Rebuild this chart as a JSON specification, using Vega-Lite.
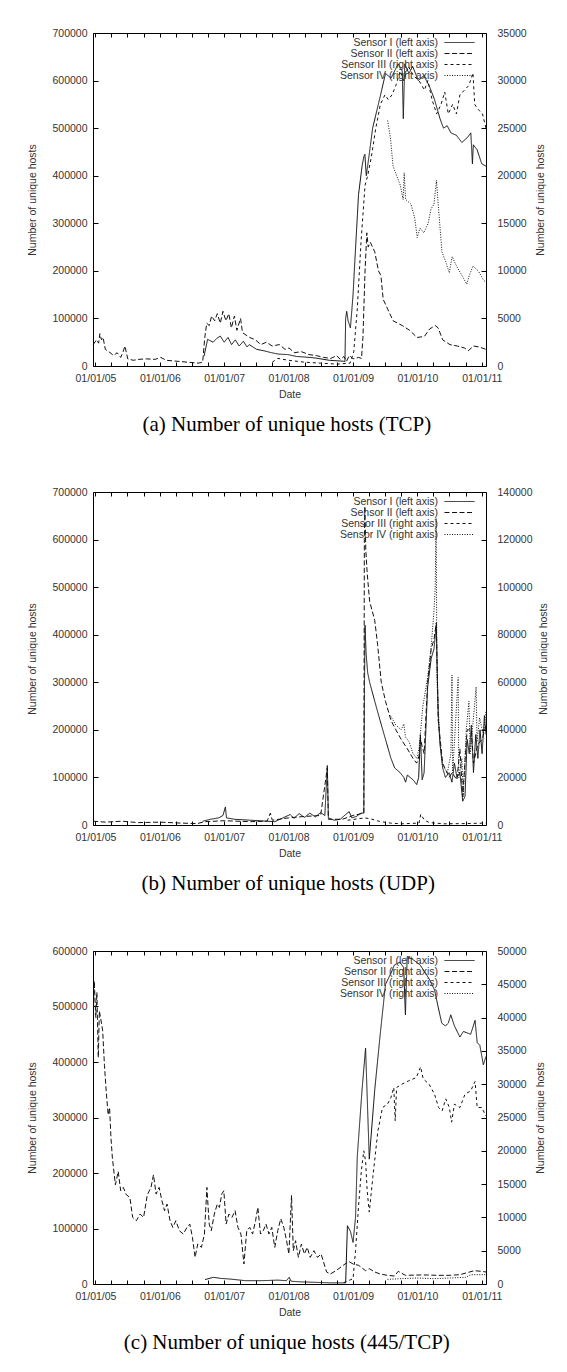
{
  "$schema": "https://vega.github.io/schema/vega-lite/v6.json",
  "background": "white",
  "padding": {"left": 27, "top": 27, "right": 5, "bottom": 5},
  "spacing": 50,
  "config": {
    "font": "Liberation Sans",
    "view": {"stroke": "#000", "strokeWidth": 1},
    "axis": {"labelFont": "Liberation Sans", "labelFontSize": 10.5, "labelColor": "#333", "titleFont": "Liberation Sans", "titleFontSize": 10.5, "titleFontWeight": "normal", "titleColor": "#333", "domain": false, "grid": false, "tickColor": "#000", "tickWidth": 1},
    "legend": {"orient": "none", "legendX": 361, "legendY": 4, "title": null, "padding": 0, "rowPadding": 0, "labelFont": "Liberation Sans", "labelFontSize": 10.5, "labelColor": "#333", "symbolType": "M-3,0H3", "symbolSize": 100, "symbolStrokeWidth": 1, "symbolStrokeColor": "#111", "labelAlign": "right", "labelOffset": -27, "labelLimit": 300},
    "title": {"font": "Liberation Serif", "fontSize": 21, "fontWeight": "normal", "color": "#000", "orient": "bottom", "anchor": "middle", "frame": "bounds", "offset": 14, "baseline": "top"},
    "line": {"stroke": "#111", "strokeWidth": 1, "clip": true}
  },
  "resolve": {"scale": {"strokeDash": "independent"}, "legend": {"strokeDash": "independent"}},
  "datasets": {
    "aL": [
      {"s":"I","d":"2006-09-09","v":21000},{"s":"I","d":"2006-09-29","v":56000},{"s":"I","d":"2006-10-30","v":50000},{"s":"I","d":"2006-11-20","v":58000},{"s":"I","d":"2006-12-10","v":63000},{"s":"I","d":"2007-01-01","v":50000},{"s":"I","d":"2007-01-23","v":60000},{"s":"I","d":"2007-02-12","v":45000},{"s":"I","d":"2007-03-05","v":55000},{"s":"I","d":"2007-03-27","v":42000},{"s":"I","d":"2007-04-20","v":52000},{"s":"I","d":"2007-05-10","v":40000},{"s":"I","d":"2007-05-23","v":45000},{"s":"I","d":"2007-07-04","v":35000},{"s":"I","d":"2007-08-15","v":32000},{"s":"I","d":"2007-09-25","v":28000},{"s":"I","d":"2007-11-05","v":25000},{"s":"I","d":"2007-12-28","v":24000},{"s":"I","d":"2008-02-16","v":20000},{"s":"I","d":"2008-03-28","v":19000},{"s":"I","d":"2008-05-29","v":17000},{"s":"I","d":"2008-08-19","v":12000},{"s":"I","d":"2008-11-09","v":10000},{"s":"I","d":"2008-11-16","v":9000},{"s":"I","d":"2008-11-20","v":100000},{"s":"I","d":"2008-11-26","v":115000},{"s":"I","d":"2008-12-04","v":95000},{"s":"I","d":"2008-12-17","v":80000},{"s":"I","d":"2009-01-01","v":150000},{"s":"I","d":"2009-01-11","v":220000},{"s":"I","d":"2009-02-01","v":360000},{"s":"I","d":"2009-02-21","v":420000},{"s":"I","d":"2009-03-03","v":440000},{"s":"I","d":"2009-03-09","v":445000},{"s":"I","d":"2009-03-17","v":400000},{"s":"I","d":"2009-04-01","v":440000},{"s":"I","d":"2009-04-22","v":500000},{"s":"I","d":"2009-06-03","v":565000},{"s":"I","d":"2009-07-04","v":615000},{"s":"I","d":"2009-08-04","v":605000},{"s":"I","d":"2009-09-14","v":635000},{"s":"I","d":"2009-10-07","v":620000},{"s":"I","d":"2009-10-13","v":520000},{"s":"I","d":"2009-10-21","v":635000},{"s":"I","d":"2009-11-14","v":615000},{"s":"I","d":"2009-12-05","v":630000},{"s":"I","d":"2010-01-06","v":600000},{"s":"I","d":"2010-02-06","v":610000},{"s":"I","d":"2010-03-08","v":590000},{"s":"I","d":"2010-04-08","v":560000},{"s":"I","d":"2010-05-09","v":520000},{"s":"I","d":"2010-05-29","v":500000},{"s":"I","d":"2010-06-19","v":505000},{"s":"I","d":"2010-07-10","v":490000},{"s":"I","d":"2010-08-10","v":485000},{"s":"I","d":"2010-09-10","v":470000},{"s":"I","d":"2010-10-11","v":480000},{"s":"I","d":"2010-10-31","v":490000},{"s":"I","d":"2010-11-09","v":425000},{"s":"I","d":"2010-11-14","v":465000},{"s":"I","d":"2010-12-05","v":455000},{"s":"I","d":"2011-01-01","v":425000},{"s":"I","d":"2011-01-25","v":420000},
      {"s":"II","d":"2004-12-19","v":45000},{"s":"II","d":"2005-01-07","v":55000},{"s":"II","d":"2005-01-19","v":48000},{"s":"II","d":"2005-01-26","v":68000},{"s":"II","d":"2005-02-04","v":55000},{"s":"II","d":"2005-02-13","v":60000},{"s":"II","d":"2005-02-26","v":35000},{"s":"II","d":"2005-03-25","v":28000},{"s":"II","d":"2005-04-14","v":22000},{"s":"II","d":"2005-05-04","v":28000},{"s":"II","d":"2005-05-24","v":18000},{"s":"II","d":"2005-06-07","v":30000},{"s":"II","d":"2005-06-17","v":42000},{"s":"II","d":"2005-07-03","v":15000},{"s":"II","d":"2005-08-04","v":12000},{"s":"II","d":"2005-09-05","v":14000},{"s":"II","d":"2005-10-17","v":15000},{"s":"II","d":"2005-12-06","v":14000},{"s":"II","d":"2006-01-06","v":18000},{"s":"II","d":"2006-02-07","v":12000},{"s":"II","d":"2006-04-08","v":10000},{"s":"II","d":"2006-06-08","v":8000},{"s":"II","d":"2006-08-07","v":6000},{"s":"II","d":"2006-09-01","v":8000},{"s":"II","d":"2006-09-13","v":60000},{"s":"II","d":"2006-09-24","v":90000},{"s":"II","d":"2006-10-08","v":85000},{"s":"II","d":"2006-10-22","v":105000},{"s":"II","d":"2006-11-08","v":95000},{"s":"II","d":"2006-11-23","v":110000},{"s":"II","d":"2006-12-10","v":90000},{"s":"II","d":"2006-12-25","v":115000},{"s":"II","d":"2007-01-11","v":95000},{"s":"II","d":"2007-01-27","v":110000},{"s":"II","d":"2007-02-11","v":80000},{"s":"II","d":"2007-02-28","v":105000},{"s":"II","d":"2007-03-14","v":75000},{"s":"II","d":"2007-04-04","v":100000},{"s":"II","d":"2007-04-15","v":70000},{"s":"II","d":"2007-05-05","v":65000},{"s":"II","d":"2007-05-26","v":60000},{"s":"II","d":"2007-06-27","v":55000},{"s":"II","d":"2007-07-28","v":45000},{"s":"II","d":"2007-08-29","v":50000},{"s":"II","d":"2007-09-30","v":42000},{"s":"II","d":"2007-11-10","v":45000},{"s":"II","d":"2007-12-12","v":35000},{"s":"II","d":"2008-01-04","v":38000},{"s":"II","d":"2008-02-02","v":28000},{"s":"II","d":"2008-03-15","v":30000},{"s":"II","d":"2008-04-26","v":24000},{"s":"II","d":"2008-06-06","v":22000},{"s":"II","d":"2008-07-18","v":18000},{"s":"II","d":"2008-08-29","v":16000},{"s":"II","d":"2008-09-30","v":22000},{"s":"II","d":"2008-10-20","v":14000},{"s":"II","d":"2008-11-10","v":20000},{"s":"II","d":"2008-11-25","v":10000},{"s":"II","d":"2008-12-11","v":22000},{"s":"II","d":"2009-01-01","v":15000},{"s":"II","d":"2009-02-01","v":18000},{"s":"II","d":"2009-02-18","v":16000},{"s":"II","d":"2009-02-26","v":60000},{"s":"II","d":"2009-03-10","v":200000},{"s":"II","d":"2009-03-20","v":280000},{"s":"II","d":"2009-03-28","v":250000},{"s":"II","d":"2009-04-09","v":260000},{"s":"II","d":"2009-05-04","v":240000},{"s":"II","d":"2009-05-25","v":200000},{"s":"II","d":"2009-06-08","v":190000},{"s":"II","d":"2009-06-21","v":140000},{"s":"II","d":"2009-07-16","v":120000},{"s":"II","d":"2009-08-16","v":95000},{"s":"II","d":"2009-10-07","v":85000},{"s":"II","d":"2009-11-18","v":75000},{"s":"II","d":"2009-12-30","v":60000},{"s":"II","d":"2010-02-09","v":62000},{"s":"II","d":"2010-03-12","v":78000},{"s":"II","d":"2010-04-12","v":85000},{"s":"II","d":"2010-04-29","v":80000},{"s":"II","d":"2010-05-24","v":55000},{"s":"II","d":"2010-07-04","v":45000},{"s":"II","d":"2010-08-15","v":42000},{"s":"II","d":"2010-09-25","v":38000},{"s":"II","d":"2010-10-16","v":32000},{"s":"II","d":"2010-11-16","v":42000},{"s":"II","d":"2010-12-17","v":40000},{"s":"II","d":"2011-01-25","v":35000}
    ],
    "aR": [
      {"s":"III","d":"2007-10-01","v":400},{"s":"III","d":"2007-11-01","v":800},{"s":"III","d":"2008-01-01","v":600},{"s":"III","d":"2008-04-01","v":400},{"s":"III","d":"2008-07-01","v":300},{"s":"III","d":"2008-10-01","v":200},{"s":"III","d":"2008-12-15","v":300},{"s":"III","d":"2009-01-05","v":1500},{"s":"III","d":"2009-01-25","v":6000},{"s":"III","d":"2009-02-15","v":13000},{"s":"III","d":"2009-03-10","v":19000},{"s":"III","d":"2009-03-25","v":20000},{"s":"III","d":"2009-04-15","v":22000},{"s":"III","d":"2009-05-10","v":25000},{"s":"III","d":"2009-06-05","v":27500},{"s":"III","d":"2009-07-01","v":28500},{"s":"III","d":"2009-07-20","v":28000},{"s":"III","d":"2009-08-10","v":28500},{"s":"III","d":"2009-09-01","v":29500},{"s":"III","d":"2009-09-25","v":31000},{"s":"III","d":"2009-10-15","v":30000},{"s":"III","d":"2009-11-10","v":31500},{"s":"III","d":"2009-12-10","v":30500},{"s":"III","d":"2010-01-10","v":30000},{"s":"III","d":"2010-02-10","v":29000},{"s":"III","d":"2010-03-01","v":30000},{"s":"III","d":"2010-03-25","v":28000},{"s":"III","d":"2010-04-20","v":26500},{"s":"III","d":"2010-05-15","v":27500},{"s":"III","d":"2010-06-05","v":28800},{"s":"III","d":"2010-06-25","v":26500},{"s":"III","d":"2010-07-20","v":27500},{"s":"III","d":"2010-08-10","v":26500},{"s":"III","d":"2010-08-30","v":28500},{"s":"III","d":"2010-09-25","v":29000},{"s":"III","d":"2010-10-20","v":29500},{"s":"III","d":"2010-11-12","v":30800},{"s":"III","d":"2010-11-22","v":27500},{"s":"III","d":"2010-12-10","v":27000},{"s":"III","d":"2011-01-05","v":26500},{"s":"III","d":"2011-01-25","v":25000},
      {"s":"IV","d":"2009-07-16","v":25800},{"s":"IV","d":"2009-08-01","v":24000},{"s":"IV","d":"2009-08-16","v":21000},{"s":"IV","d":"2009-09-05","v":20000},{"s":"IV","d":"2009-09-26","v":19000},{"s":"IV","d":"2009-10-12","v":17500},{"s":"IV","d":"2009-10-18","v":20300},{"s":"IV","d":"2009-10-26","v":17500},{"s":"IV","d":"2009-11-26","v":17000},{"s":"IV","d":"2009-12-17","v":15500},{"s":"IV","d":"2009-12-31","v":13500},{"s":"IV","d":"2010-01-16","v":14500},{"s":"IV","d":"2010-02-06","v":14000},{"s":"IV","d":"2010-03-03","v":15000},{"s":"IV","d":"2010-03-19","v":16500},{"s":"IV","d":"2010-04-05","v":17000},{"s":"IV","d":"2010-04-19","v":19500},{"s":"IV","d":"2010-04-29","v":17000},{"s":"IV","d":"2010-05-20","v":12000},{"s":"IV","d":"2010-06-10","v":11000},{"s":"IV","d":"2010-07-01","v":9800},{"s":"IV","d":"2010-07-17","v":11500},{"s":"IV","d":"2010-08-11","v":10500},{"s":"IV","d":"2010-09-11","v":9500},{"s":"IV","d":"2010-10-08","v":8600},{"s":"IV","d":"2010-10-22","v":9500},{"s":"IV","d":"2010-11-12","v":10500},{"s":"IV","d":"2010-12-12","v":10000},{"s":"IV","d":"2011-01-12","v":9000},{"s":"IV","d":"2011-01-25","v":8800}
    ],
    "bL": [
      {"s":"I","d":"2006-09-01","v":8000},{"s":"I","d":"2006-10-15","v":12000},{"s":"I","d":"2006-12-01","v":15000},{"s":"I","d":"2006-12-25","v":20000},{"s":"I","d":"2007-01-08","v":38000},{"s":"I","d":"2007-01-14","v":15000},{"s":"I","d":"2007-03-01","v":12000},{"s":"I","d":"2007-06-01","v":10000},{"s":"I","d":"2007-09-01","v":8000},{"s":"I","d":"2007-10-15","v":7000},{"s":"I","d":"2007-12-01","v":15000},{"s":"I","d":"2008-01-10","v":22000},{"s":"I","d":"2008-02-01","v":14000},{"s":"I","d":"2008-03-01","v":24000},{"s":"I","d":"2008-04-01","v":16000},{"s":"I","d":"2008-05-01","v":25000},{"s":"I","d":"2008-06-01","v":17000},{"s":"I","d":"2008-07-01","v":26000},{"s":"I","d":"2008-07-25","v":20000},{"s":"I","d":"2008-08-08","v":125000},{"s":"I","d":"2008-08-14","v":15000},{"s":"I","d":"2008-09-15","v":10000},{"s":"I","d":"2008-10-20","v":12000},{"s":"I","d":"2008-11-20","v":22000},{"s":"I","d":"2008-12-10","v":28000},{"s":"I","d":"2008-12-25","v":15000},{"s":"I","d":"2009-01-20","v":18000},{"s":"I","d":"2009-02-15","v":25000},{"s":"I","d":"2009-03-03","v":25000},{"s":"I","d":"2009-03-07","v":300000},{"s":"I","d":"2009-03-10","v":420000},{"s":"I","d":"2009-03-16","v":360000},{"s":"I","d":"2009-03-25","v":320000},{"s":"I","d":"2009-04-05","v":300000},{"s":"I","d":"2009-05-04","v":260000},{"s":"I","d":"2009-06-03","v":220000},{"s":"I","d":"2009-07-04","v":180000},{"s":"I","d":"2009-08-04","v":140000},{"s":"I","d":"2009-08-25","v":120000},{"s":"I","d":"2009-09-25","v":110000},{"s":"I","d":"2009-10-16","v":100000},{"s":"I","d":"2009-10-26","v":90000},{"s":"I","d":"2009-11-05","v":105000},{"s":"I","d":"2009-12-07","v":95000},{"s":"I","d":"2009-12-28","v":85000},{"s":"I","d":"2010-01-08","v":100000},{"s":"I","d":"2010-01-18","v":190000},{"s":"I","d":"2010-01-28","v":95000},{"s":"I","d":"2010-02-08","v":110000},{"s":"I","d":"2010-02-28","v":290000},{"s":"I","d":"2010-03-20","v":350000},{"s":"I","d":"2010-04-05","v":370000},{"s":"I","d":"2010-04-18","v":420000},{"s":"I","d":"2010-04-29","v":230000},{"s":"I","d":"2010-05-09","v":170000},{"s":"I","d":"2010-05-24","v":120000},{"s":"I","d":"2010-06-09","v":100000},{"s":"I","d":"2010-06-30","v":110000},{"s":"I","d":"2010-07-16","v":90000},{"s":"I","d":"2010-07-30","v":130000},{"s":"I","d":"2010-08-13","v":100000},{"s":"I","d":"2010-08-30","v":110000},{"s":"I","d":"2010-09-15","v":50000},{"s":"I","d":"2010-09-28","v":60000},{"s":"I","d":"2010-10-10","v":180000},{"s":"I","d":"2010-10-22","v":150000},{"s":"I","d":"2010-11-03","v":210000},{"s":"I","d":"2010-11-15","v":110000},{"s":"I","d":"2010-11-28","v":190000},{"s":"I","d":"2010-12-10","v":140000},{"s":"I","d":"2010-12-22","v":200000},{"s":"I","d":"2011-01-03","v":150000},{"s":"I","d":"2011-01-16","v":230000},{"s":"I","d":"2011-01-25","v":190000},
      {"s":"II","d":"2004-12-19","v":8000},{"s":"II","d":"2005-03-01","v":6000},{"s":"II","d":"2005-06-01","v":8000},{"s":"II","d":"2005-09-01","v":5000},{"s":"II","d":"2006-01-01","v":6000},{"s":"II","d":"2006-05-01","v":4000},{"s":"II","d":"2006-08-01","v":3000},{"s":"II","d":"2006-09-15","v":7000},{"s":"II","d":"2007-01-01","v":9000},{"s":"II","d":"2007-06-01","v":7000},{"s":"II","d":"2007-09-01","v":8000},{"s":"II","d":"2007-09-20","v":25000},{"s":"II","d":"2007-10-01","v":10000},{"s":"II","d":"2008-01-01","v":15000},{"s":"II","d":"2008-04-01","v":18000},{"s":"II","d":"2008-07-01","v":20000},{"s":"II","d":"2008-08-08","v":120000},{"s":"II","d":"2008-08-14","v":12000},{"s":"II","d":"2008-11-01","v":12000},{"s":"II","d":"2009-01-01","v":20000},{"s":"II","d":"2009-03-03","v":25000},{"s":"II","d":"2009-03-06","v":600000},{"s":"II","d":"2009-03-09","v":670000},{"s":"II","d":"2009-03-14","v":580000},{"s":"II","d":"2009-03-22","v":530000},{"s":"II","d":"2009-04-05","v":470000},{"s":"II","d":"2009-05-04","v":430000},{"s":"II","d":"2009-05-20","v":380000},{"s":"II","d":"2009-06-10","v":300000},{"s":"II","d":"2009-07-04","v":260000},{"s":"II","d":"2009-08-04","v":220000},{"s":"II","d":"2009-09-01","v":200000},{"s":"II","d":"2009-10-01","v":180000},{"s":"II","d":"2009-11-05","v":160000},{"s":"II","d":"2009-12-07","v":140000},{"s":"II","d":"2009-12-28","v":130000},{"s":"II","d":"2010-01-10","v":145000},{"s":"II","d":"2010-01-18","v":180000},{"s":"II","d":"2010-02-08","v":150000},{"s":"II","d":"2010-02-28","v":300000},{"s":"II","d":"2010-03-20","v":370000},{"s":"II","d":"2010-04-05","v":390000},{"s":"II","d":"2010-04-18","v":425000},{"s":"II","d":"2010-04-29","v":220000},{"s":"II","d":"2010-05-24","v":130000},{"s":"II","d":"2010-06-30","v":100000},{"s":"II","d":"2010-07-16","v":110000},{"s":"II","d":"2010-08-13","v":95000},{"s":"II","d":"2010-08-30","v":160000},{"s":"II","d":"2010-09-15","v":60000},{"s":"II","d":"2010-10-10","v":200000},{"s":"II","d":"2010-11-03","v":200000},{"s":"II","d":"2010-11-15","v":130000},{"s":"II","d":"2010-12-10","v":170000},{"s":"II","d":"2011-01-03","v":180000},{"s":"II","d":"2011-01-25","v":210000}
    ],
    "bR": [
      {"s":"III","d":"2008-12-01","v":2000},{"s":"III","d":"2009-03-09","v":3000},{"s":"III","d":"2009-04-15","v":2500},{"s":"III","d":"2009-06-01","v":1500},{"s":"III","d":"2009-08-01","v":800},{"s":"III","d":"2009-10-01","v":500},{"s":"III","d":"2010-01-10","v":800},{"s":"III","d":"2010-01-20","v":4500},{"s":"III","d":"2010-02-10","v":2000},{"s":"III","d":"2010-03-10","v":1000},{"s":"III","d":"2010-06-01","v":500},{"s":"III","d":"2010-10-01","v":600},{"s":"III","d":"2011-01-25","v":800},
      {"s":"IV","d":"2009-08-01","v":46000},{"s":"IV","d":"2009-09-01","v":42000},{"s":"IV","d":"2009-10-01","v":40000},{"s":"IV","d":"2009-10-16","v":42500},{"s":"IV","d":"2009-10-25","v":37000},{"s":"IV","d":"2009-11-15","v":35000},{"s":"IV","d":"2009-12-07","v":30000},{"s":"IV","d":"2009-12-28","v":28000},{"s":"IV","d":"2010-01-10","v":32000},{"s":"IV","d":"2010-02-01","v":50000},{"s":"IV","d":"2010-02-28","v":62000},{"s":"IV","d":"2010-03-20","v":75000},{"s":"IV","d":"2010-04-05","v":90000},{"s":"IV","d":"2010-04-12","v":100000},{"s":"IV","d":"2010-04-17","v":129000},{"s":"IV","d":"2010-04-22","v":60000},{"s":"IV","d":"2010-05-09","v":35000},{"s":"IV","d":"2010-05-24","v":25000},{"s":"IV","d":"2010-06-20","v":22000},{"s":"IV","d":"2010-07-10","v":30000},{"s":"IV","d":"2010-07-16","v":63000},{"s":"IV","d":"2010-07-20","v":22000},{"s":"IV","d":"2010-08-20","v":62000},{"s":"IV","d":"2010-08-24","v":20000},{"s":"IV","d":"2010-09-10","v":28000},{"s":"IV","d":"2010-09-18","v":12000},{"s":"IV","d":"2010-10-05","v":40000},{"s":"IV","d":"2010-10-20","v":52000},{"s":"IV","d":"2010-10-28","v":30000},{"s":"IV","d":"2010-11-30","v":58000},{"s":"IV","d":"2010-12-05","v":35000},{"s":"IV","d":"2010-12-20","v":45000},{"s":"IV","d":"2011-01-10","v":38000},{"s":"IV","d":"2011-01-25","v":48000}
    ],
    "cL": [
      {"s":"I","d":"2006-09-15","v":8000},{"s":"I","d":"2006-11-01","v":12000},{"s":"I","d":"2006-12-15","v":10000},{"s":"I","d":"2007-02-01","v":9000},{"s":"I","d":"2007-05-01","v":6000},{"s":"I","d":"2007-08-01","v":6000},{"s":"I","d":"2007-11-01","v":7000},{"s":"I","d":"2007-12-20","v":6000},{"s":"I","d":"2008-01-05","v":12000},{"s":"I","d":"2008-01-15","v":5000},{"s":"I","d":"2008-03-01","v":4000},{"s":"I","d":"2008-06-01","v":3000},{"s":"I","d":"2008-09-01","v":2000},{"s":"I","d":"2008-11-20","v":2000},{"s":"I","d":"2008-11-30","v":105000},{"s":"I","d":"2008-12-17","v":95000},{"s":"I","d":"2009-01-01","v":75000},{"s":"I","d":"2009-01-15","v":120000},{"s":"I","d":"2009-01-25","v":230000},{"s":"I","d":"2009-02-21","v":350000},{"s":"I","d":"2009-03-13","v":425000},{"s":"I","d":"2009-04-03","v":225000},{"s":"I","d":"2009-05-04","v":350000},{"s":"I","d":"2009-06-04","v":450000},{"s":"I","d":"2009-07-04","v":540000},{"s":"I","d":"2009-08-04","v":560000},{"s":"I","d":"2009-08-24","v":575000},{"s":"I","d":"2009-09-24","v":580000},{"s":"I","d":"2009-10-15","v":570000},{"s":"I","d":"2009-10-25","v":485000},{"s":"I","d":"2009-11-04","v":590000},{"s":"I","d":"2009-12-05","v":585000},{"s":"I","d":"2010-01-16","v":575000},{"s":"I","d":"2010-02-16","v":560000},{"s":"I","d":"2010-03-08","v":550000},{"s":"I","d":"2010-04-08","v":530000},{"s":"I","d":"2010-04-28","v":500000},{"s":"I","d":"2010-05-19","v":470000},{"s":"I","d":"2010-06-09","v":465000},{"s":"I","d":"2010-06-25","v":470000},{"s":"I","d":"2010-07-09","v":485000},{"s":"I","d":"2010-07-30","v":465000},{"s":"I","d":"2010-08-30","v":445000},{"s":"I","d":"2010-09-19","v":455000},{"s":"I","d":"2010-10-30","v":450000},{"s":"I","d":"2010-11-24","v":475000},{"s":"I","d":"2010-12-06","v":435000},{"s":"I","d":"2010-12-21","v":430000},{"s":"I","d":"2011-01-10","v":395000},{"s":"I","d":"2011-01-25","v":410000}
    ],
    "cR": [
      {"s":"II","d":"2004-12-21","v":41300},{"s":"II","d":"2004-12-25","v":45500},{"s":"II","d":"2005-01-03","v":40000},{"s":"II","d":"2005-01-09","v":43800},{"s":"II","d":"2005-01-17","v":34000},{"s":"II","d":"2005-01-23","v":41000},{"s":"II","d":"2005-01-31","v":39800},{"s":"II","d":"2005-02-11","v":38000},{"s":"II","d":"2005-02-21","v":32800},{"s":"II","d":"2005-03-03","v":28900},{"s":"II","d":"2005-03-14","v":25400},{"s":"II","d":"2005-03-22","v":26500},{"s":"II","d":"2005-03-30","v":21900},{"s":"II","d":"2005-04-07","v":18900},{"s":"II","d":"2005-04-24","v":14900},{"s":"II","d":"2005-05-10","v":16900},{"s":"II","d":"2005-05-24","v":14000},{"s":"II","d":"2005-06-08","v":14500},{"s":"II","d":"2005-06-25","v":13400},{"s":"II","d":"2005-07-15","v":13000},{"s":"II","d":"2005-07-31","v":10000},{"s":"II","d":"2005-08-21","v":9500},{"s":"II","d":"2005-09-11","v":10500},{"s":"II","d":"2005-10-01","v":10000},{"s":"II","d":"2005-10-22","v":13400},{"s":"II","d":"2005-11-12","v":14500},{"s":"II","d":"2005-11-26","v":16400},{"s":"II","d":"2005-12-11","v":13500},{"s":"II","d":"2005-12-28","v":14500},{"s":"II","d":"2006-01-13","v":12500},{"s":"II","d":"2006-01-28","v":11000},{"s":"II","d":"2006-02-11","v":12000},{"s":"II","d":"2006-02-28","v":9500},{"s":"II","d":"2006-03-16","v":8500},{"s":"II","d":"2006-04-02","v":9500},{"s":"II","d":"2006-04-22","v":8000},{"s":"II","d":"2006-05-14","v":7500},{"s":"II","d":"2006-06-04","v":8500},{"s":"II","d":"2006-06-20","v":9000},{"s":"II","d":"2006-07-05","v":7000},{"s":"II","d":"2006-07-20","v":4000},{"s":"II","d":"2006-08-04","v":6000},{"s":"II","d":"2006-08-25","v":5500},{"s":"II","d":"2006-09-11","v":7500},{"s":"II","d":"2006-09-25","v":14500},{"s":"II","d":"2006-10-08","v":9000},{"s":"II","d":"2006-10-20","v":8000},{"s":"II","d":"2006-11-06","v":10500},{"s":"II","d":"2006-11-23","v":12000},{"s":"II","d":"2006-12-05","v":11500},{"s":"II","d":"2006-12-18","v":13500},{"s":"II","d":"2006-12-30","v":14000},{"s":"II","d":"2007-01-12","v":9000},{"s":"II","d":"2007-01-28","v":10500},{"s":"II","d":"2007-02-14","v":10000},{"s":"II","d":"2007-03-04","v":11000},{"s":"II","d":"2007-03-20","v":8500},{"s":"II","d":"2007-04-06","v":7500},{"s":"II","d":"2007-04-23","v":3000},{"s":"II","d":"2007-05-09","v":8000},{"s":"II","d":"2007-05-26","v":8500},{"s":"II","d":"2007-06-11","v":7500},{"s":"II","d":"2007-06-28","v":9500},{"s":"II","d":"2007-07-11","v":11500},{"s":"II","d":"2007-07-26","v":7500},{"s":"II","d":"2007-08-11","v":8000},{"s":"II","d":"2007-08-26","v":9000},{"s":"II","d":"2007-09-12","v":7500},{"s":"II","d":"2007-09-28","v":8500},{"s":"II","d":"2007-10-15","v":5500},{"s":"II","d":"2007-11-01","v":8000},{"s":"II","d":"2007-11-18","v":9800},{"s":"II","d":"2007-12-05","v":8500},{"s":"II","d":"2007-12-21","v":6500},{"s":"II","d":"2008-01-03","v":4500},{"s":"II","d":"2008-01-18","v":13300},{"s":"II","d":"2008-01-28","v":5000},{"s":"II","d":"2008-02-10","v":6500},{"s":"II","d":"2008-02-26","v":4000},{"s":"II","d":"2008-03-14","v":6000},{"s":"II","d":"2008-03-31","v":4500},{"s":"II","d":"2008-04-16","v":5500},{"s":"II","d":"2008-05-03","v":4000},{"s":"II","d":"2008-05-24","v":5000},{"s":"II","d":"2008-06-13","v":4000},{"s":"II","d":"2008-07-04","v":4500},{"s":"II","d":"2008-07-21","v":3000},{"s":"II","d":"2008-08-04","v":1800},{"s":"II","d":"2008-08-25","v":1500},{"s":"II","d":"2008-09-26","v":2000},{"s":"II","d":"2008-11-06","v":2800},{"s":"II","d":"2008-12-07","v":3400},{"s":"II","d":"2009-01-01","v":3000},{"s":"II","d":"2009-02-02","v":2800},{"s":"II","d":"2009-03-13","v":2000},{"s":"II","d":"2009-04-03","v":2300},{"s":"II","d":"2009-05-04","v":1800},{"s":"II","d":"2009-06-04","v":1500},{"s":"II","d":"2009-07-15","v":1300},{"s":"II","d":"2009-08-24","v":1200},{"s":"II","d":"2009-09-14","v":1900},{"s":"II","d":"2009-10-25","v":1300},{"s":"II","d":"2009-12-26","v":1350},{"s":"II","d":"2010-02-27","v":1350},{"s":"II","d":"2010-04-28","v":1300},{"s":"II","d":"2010-06-30","v":1300},{"s":"II","d":"2010-08-30","v":1400},{"s":"II","d":"2010-10-10","v":1700},{"s":"II","d":"2010-11-20","v":2000},{"s":"II","d":"2011-01-01","v":1900},{"s":"II","d":"2011-01-25","v":1800},
      {"s":"III","d":"2008-11-09","v":200},{"s":"III","d":"2009-01-01","v":800},{"s":"III","d":"2009-01-15","v":5000},{"s":"III","d":"2009-02-02","v":12000},{"s":"III","d":"2009-02-17","v":17000},{"s":"III","d":"2009-03-03","v":20000},{"s":"III","d":"2009-03-13","v":18500},{"s":"III","d":"2009-03-22","v":14000},{"s":"III","d":"2009-04-03","v":10800},{"s":"III","d":"2009-04-23","v":16000},{"s":"III","d":"2009-05-22","v":23000},{"s":"III","d":"2009-06-17","v":26500},{"s":"III","d":"2009-07-15","v":27000},{"s":"III","d":"2009-08-04","v":28000},{"s":"III","d":"2009-08-20","v":29500},{"s":"III","d":"2009-08-28","v":24500},{"s":"III","d":"2009-09-05","v":29500},{"s":"III","d":"2009-10-05","v":30000},{"s":"III","d":"2009-11-12","v":30500},{"s":"III","d":"2009-12-26","v":31000},{"s":"III","d":"2010-01-19","v":32600},{"s":"III","d":"2010-02-03","v":30800},{"s":"III","d":"2010-03-08","v":30000},{"s":"III","d":"2010-04-08","v":28500},{"s":"III","d":"2010-05-01","v":26500},{"s":"III","d":"2010-05-21","v":26000},{"s":"III","d":"2010-06-11","v":27800},{"s":"III","d":"2010-07-01","v":26500},{"s":"III","d":"2010-07-14","v":24300},{"s":"III","d":"2010-07-30","v":27000},{"s":"III","d":"2010-08-30","v":26500},{"s":"III","d":"2010-09-28","v":28500},{"s":"III","d":"2010-10-30","v":29000},{"s":"III","d":"2010-11-24","v":30400},{"s":"III","d":"2010-12-06","v":26500},{"s":"III","d":"2011-01-01","v":26500},{"s":"III","d":"2011-01-25","v":25200},
      {"s":"IV","d":"2009-07-15","v":700},{"s":"IV","d":"2009-10-01","v":800},{"s":"IV","d":"2010-01-01","v":900},{"s":"IV","d":"2010-04-01","v":800},{"s":"IV","d":"2010-07-01","v":900},{"s":"IV","d":"2010-10-01","v":1000},{"s":"IV","d":"2010-11-01","v":1400},{"s":"IV","d":"2011-01-25","v":1400}
    ]
  },
  "vconcat": [
    {
      "width": 393, "height": 333,
      "title": {"text": "(a) Number of unique hosts (TCP)"},
      "resolve": {"scale": {"y": "independent"}, "axis": {"x": "independent", "y": "independent"}},
      "layer": [
        {
          "data": {"name": "aL"},
          "mark": {"type": "line"},
          "encoding": {
            "x": {"field": "d", "type": "temporal", "scale": {"type": "utc", "domain": [{"year": 2004, "month": 12, "date": 18, "utc": true}, {"year": 2011, "month": 1, "date": 25, "utc": true}]}, "axis": {"orient": "bottom", "title": "Date", "tickCount": {"interval": "month", "step": 3}, "labelExpr": "utcmonth(datum.value) == 0 ? utcFormat(datum.value, '%m/%d/%y') : ''", "labelOverlap": false, "labelFlush": false, "tickSize": -4, "labelPadding": 11.5, "titlePadding": 5.5}},
            "y": {"field": "v", "type": "quantitative", "scale": {"domain": [0, 700000], "nice": false}, "axis": {"orient": "left", "title": "Number of unique hosts", "values": [0, 100000, 200000, 300000, 400000, 500000, 600000, 700000], "format": "d", "tickSize": -5, "labelPadding": 11, "titlePadding": 14}},
            "strokeDash": {"field": "s", "type": "nominal", "scale": {"domain": ["I", "II", "III", "IV"], "range": [[1, 0], [5, 2.5], [3, 3], [1, 1.5]]}, "legend": {"labelExpr": "datum.label == 'I' ? 'Sensor I (left axis)' : datum.label == 'II' ? 'Sensor II (left axis)' : datum.label == 'III' ? 'Sensor III (right axis)' : 'Sensor IV (right axis)'"}}
          }
        },
        {
          "data": {"name": "aR"},
          "mark": {"type": "line"},
          "encoding": {
            "x": {"field": "d", "type": "temporal", "scale": {"type": "utc", "domain": [{"year": 2004, "month": 12, "date": 18, "utc": true}, {"year": 2011, "month": 1, "date": 25, "utc": true}]}, "axis": {"orient": "top", "title": null, "labels": false, "tickCount": {"interval": "month", "step": 3}, "tickSize": -4}},
            "y": {"field": "v", "type": "quantitative", "scale": {"domain": [0, 35000], "nice": false}, "axis": {"orient": "right", "title": "Number of unique hosts", "titleAngle": 270, "titleBaseline": "top", "values": [0, 5000, 10000, 15000, 20000, 25000, 30000, 35000], "format": "d", "tickSize": -5, "labelPadding": 16, "titlePadding": 9}},
            "strokeDash": {"field": "s", "type": "nominal", "scale": {"domain": ["I", "II", "III", "IV"], "range": [[1, 0], [5, 2.5], [3, 3], [1, 1.5]]}, "legend": {"labelExpr": "datum.label == 'I' ? 'Sensor I (left axis)' : datum.label == 'II' ? 'Sensor II (left axis)' : datum.label == 'III' ? 'Sensor III (right axis)' : 'Sensor IV (right axis)'"}}
          }
        }
      ]
    },
    {
      "width": 393, "height": 333,
      "title": {"text": "(b) Number of unique hosts (UDP)"},
      "resolve": {"scale": {"y": "independent"}, "axis": {"x": "independent", "y": "independent"}},
      "layer": [
        {
          "data": {"name": "bL"},
          "mark": {"type": "line"},
          "encoding": {
            "x": {"field": "d", "type": "temporal", "scale": {"type": "utc", "domain": [{"year": 2004, "month": 12, "date": 18, "utc": true}, {"year": 2011, "month": 1, "date": 25, "utc": true}]}, "axis": {"orient": "bottom", "title": "Date", "tickCount": {"interval": "month", "step": 3}, "labelExpr": "utcmonth(datum.value) == 0 ? utcFormat(datum.value, '%m/%d/%y') : ''", "labelOverlap": false, "labelFlush": false, "tickSize": -4, "labelPadding": 11.5, "titlePadding": 5.5}},
            "y": {"field": "v", "type": "quantitative", "scale": {"domain": [0, 700000], "nice": false}, "axis": {"orient": "left", "title": "Number of unique hosts", "values": [0, 100000, 200000, 300000, 400000, 500000, 600000, 700000], "format": "d", "tickSize": -5, "labelPadding": 11, "titlePadding": 14}},
            "strokeDash": {"field": "s", "type": "nominal", "scale": {"domain": ["I", "II", "III", "IV"], "range": [[1, 0], [5, 2.5], [3, 3], [1, 1.5]]}, "legend": {"labelExpr": "datum.label == 'I' ? 'Sensor I (left axis)' : datum.label == 'II' ? 'Sensor II (left axis)' : datum.label == 'III' ? 'Sensor III (right axis)' : 'Sensor IV (right axis)'"}}
          }
        },
        {
          "data": {"name": "bR"},
          "mark": {"type": "line"},
          "encoding": {
            "x": {"field": "d", "type": "temporal", "scale": {"type": "utc", "domain": [{"year": 2004, "month": 12, "date": 18, "utc": true}, {"year": 2011, "month": 1, "date": 25, "utc": true}]}, "axis": {"orient": "top", "title": null, "labels": false, "tickCount": {"interval": "month", "step": 3}, "tickSize": -4}},
            "y": {"field": "v", "type": "quantitative", "scale": {"domain": [0, 140000], "nice": false}, "axis": {"orient": "right", "title": "Number of unique hosts", "titleAngle": 270, "titleBaseline": "top", "values": [0, 20000, 40000, 60000, 80000, 100000, 120000, 140000], "format": "d", "tickSize": -5, "labelPadding": 16, "titlePadding": 6}},
            "strokeDash": {"field": "s", "type": "nominal", "scale": {"domain": ["I", "II", "III", "IV"], "range": [[1, 0], [5, 2.5], [3, 3], [1, 1.5]]}, "legend": {"labelExpr": "datum.label == 'I' ? 'Sensor I (left axis)' : datum.label == 'II' ? 'Sensor II (left axis)' : datum.label == 'III' ? 'Sensor III (right axis)' : 'Sensor IV (right axis)'"}}
          }
        }
      ]
    },
    {
      "width": 393, "height": 333,
      "title": {"text": "(c) Number of unique hosts (445/TCP)"},
      "resolve": {"scale": {"y": "independent"}, "axis": {"x": "independent", "y": "independent"}},
      "layer": [
        {
          "data": {"name": "cL"},
          "mark": {"type": "line"},
          "encoding": {
            "x": {"field": "d", "type": "temporal", "scale": {"type": "utc", "domain": [{"year": 2004, "month": 12, "date": 18, "utc": true}, {"year": 2011, "month": 1, "date": 25, "utc": true}]}, "axis": {"orient": "bottom", "title": "Date", "tickCount": {"interval": "month", "step": 3}, "labelExpr": "utcmonth(datum.value) == 0 ? utcFormat(datum.value, '%m/%d/%y') : ''", "labelOverlap": false, "labelFlush": false, "tickSize": -4, "labelPadding": 11.5, "titlePadding": 5.5}},
            "y": {"field": "v", "type": "quantitative", "scale": {"domain": [0, 600000], "nice": false}, "axis": {"orient": "left", "title": "Number of unique hosts", "values": [0, 100000, 200000, 300000, 400000, 500000, 600000], "format": "d", "tickSize": -5, "labelPadding": 11, "titlePadding": 14}},
            "strokeDash": {"field": "s", "type": "nominal", "scale": {"domain": ["I", "II", "III", "IV"], "range": [[1, 0], [5, 2.5], [3, 3], [1, 1.5]]}, "legend": {"labelExpr": "datum.label == 'I' ? 'Sensor I (left axis)' : datum.label == 'II' ? 'Sensor II (right axis)' : datum.label == 'III' ? 'Sensor III (right axis)' : 'Sensor IV (right axis)'"}}
          }
        },
        {
          "data": {"name": "cR"},
          "mark": {"type": "line"},
          "encoding": {
            "x": {"field": "d", "type": "temporal", "scale": {"type": "utc", "domain": [{"year": 2004, "month": 12, "date": 18, "utc": true}, {"year": 2011, "month": 1, "date": 25, "utc": true}]}, "axis": {"orient": "top", "title": null, "labels": false, "tickCount": {"interval": "month", "step": 3}, "tickSize": -4}},
            "y": {"field": "v", "type": "quantitative", "scale": {"domain": [0, 50000], "nice": false}, "axis": {"orient": "right", "title": "Number of unique hosts", "titleAngle": 270, "titleBaseline": "top", "values": [0, 5000, 10000, 15000, 20000, 25000, 30000, 35000, 40000, 45000, 50000], "format": "d", "tickSize": -5, "labelPadding": 16, "titlePadding": 9}},
            "strokeDash": {"field": "s", "type": "nominal", "scale": {"domain": ["I", "II", "III", "IV"], "range": [[1, 0], [5, 2.5], [3, 3], [1, 1.5]]}, "legend": {"labelExpr": "datum.label == 'I' ? 'Sensor I (left axis)' : datum.label == 'II' ? 'Sensor II (right axis)' : datum.label == 'III' ? 'Sensor III (right axis)' : 'Sensor IV (right axis)'"}}
          }
        }
      ]
    }
  ]
}
